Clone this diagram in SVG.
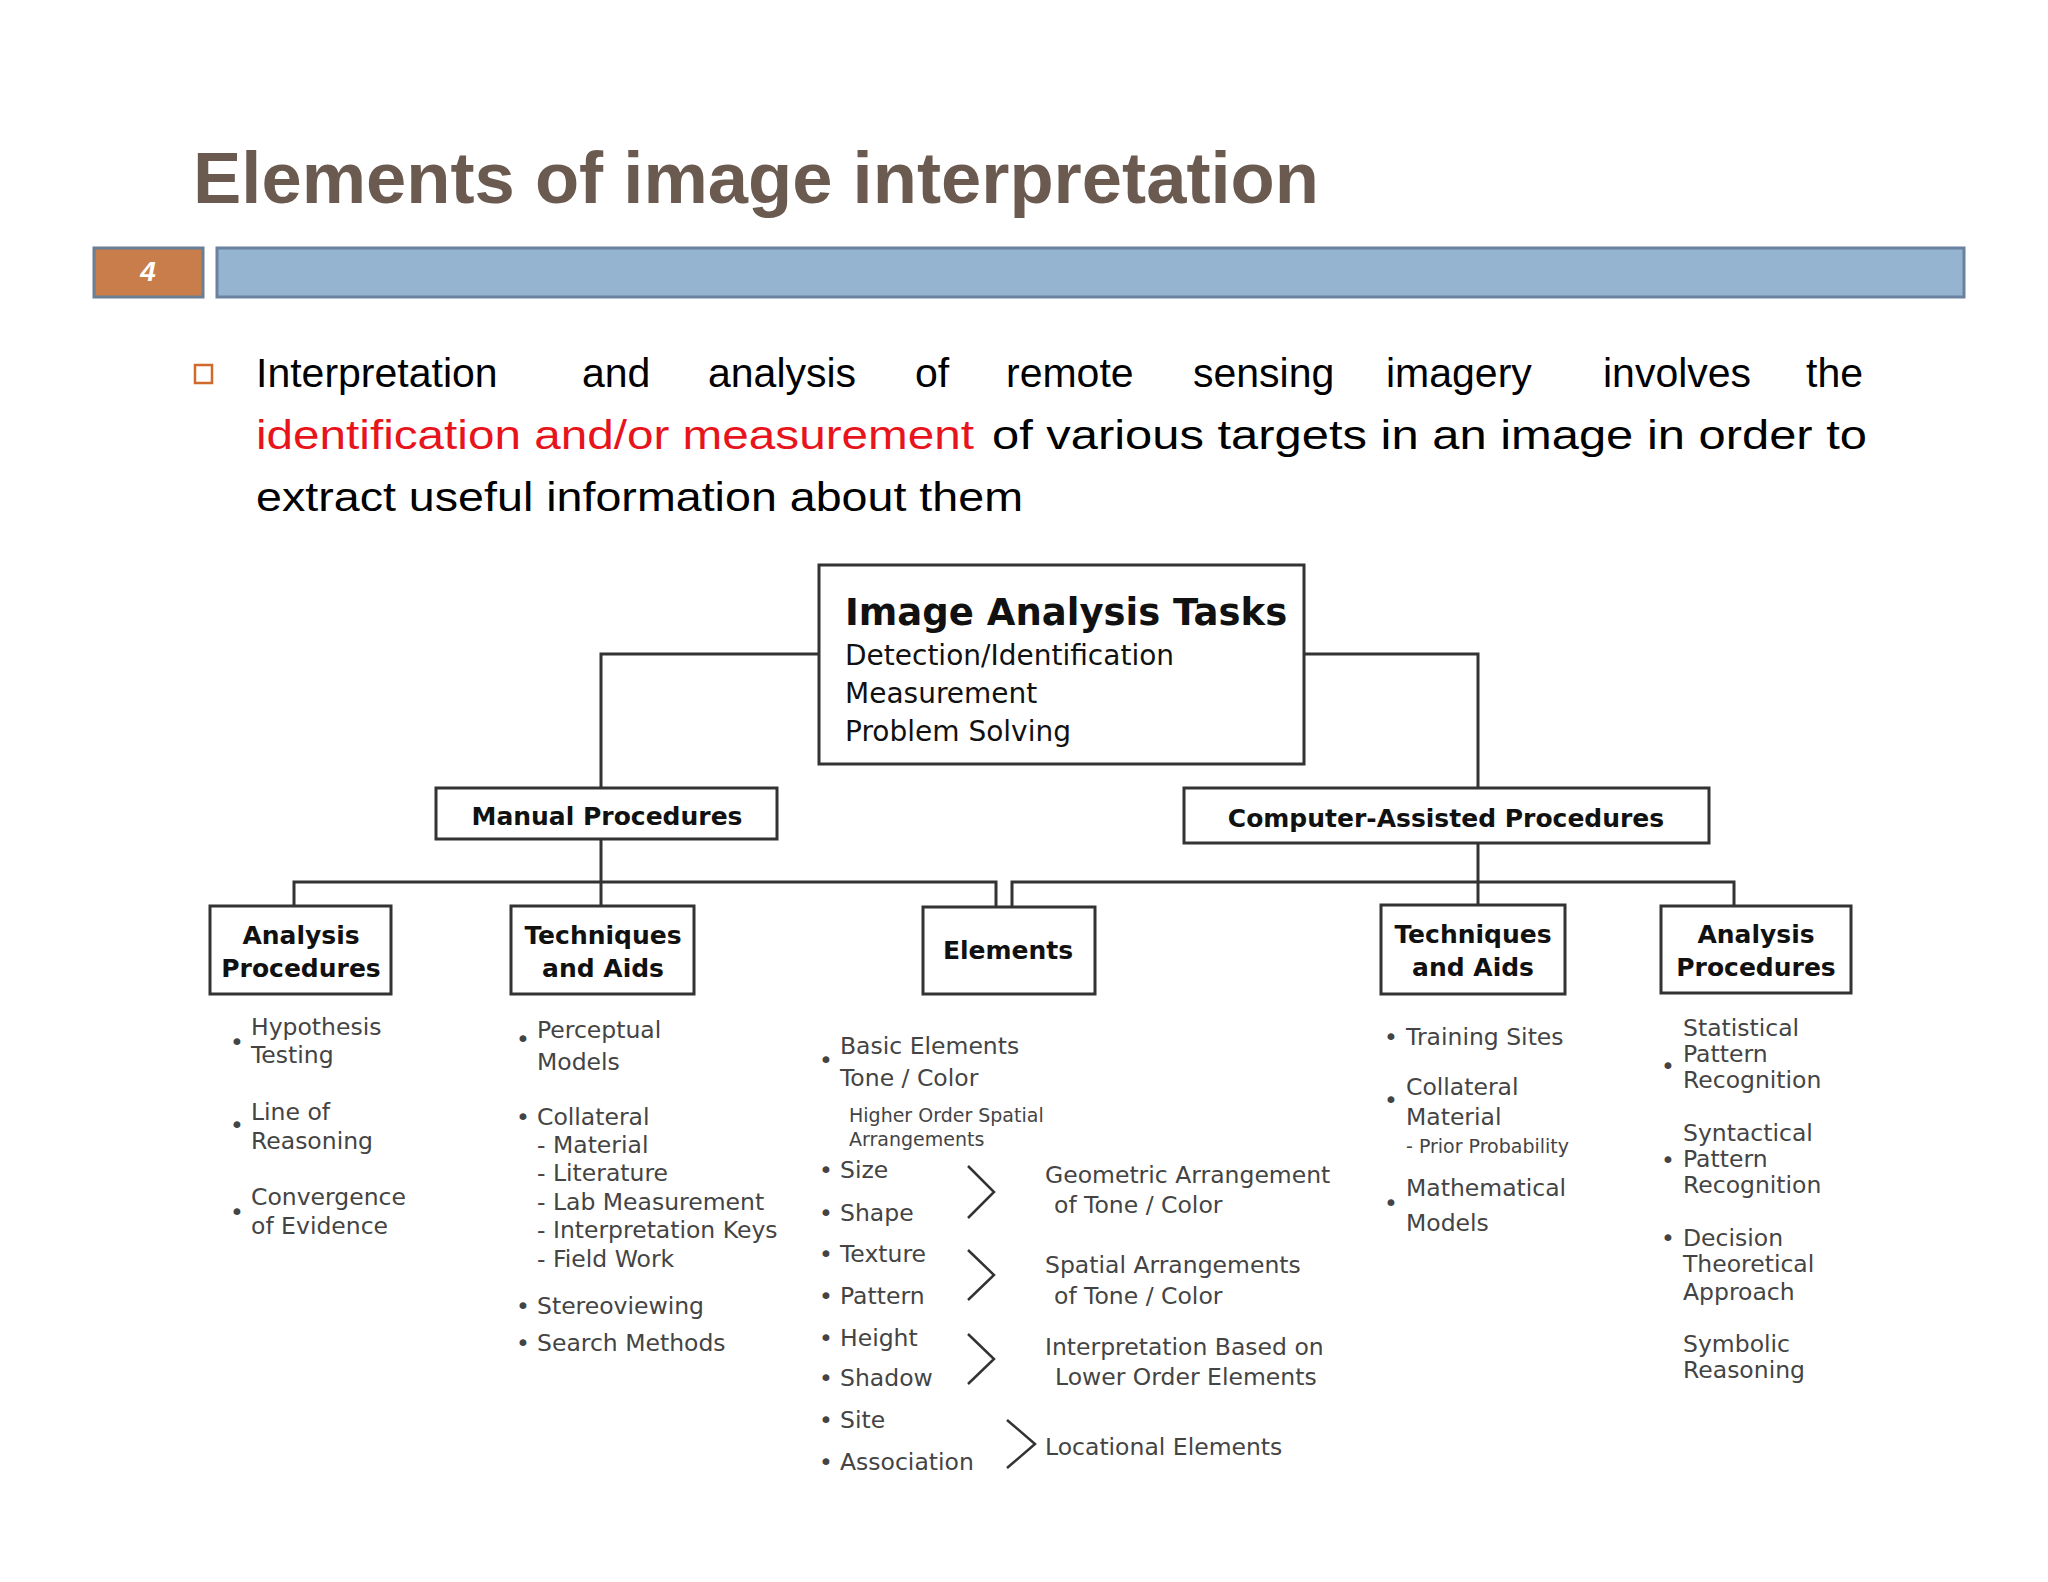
<svg xmlns="http://www.w3.org/2000/svg" width="2048" height="1582" viewBox="0 0 2048 1582">
<style>
.t{font-family:"DejaVu Sans",Verdana,sans-serif;fill:#111}
.b{font-weight:bold;font-size:25px;text-anchor:middle}
.l{font-size:23.5px;fill:#444}
.s{font-size:19px;fill:#444}
.box{fill:#fff;stroke:#333;stroke-width:3}
.c{fill:none;stroke:#333;stroke-width:3}
.body{font-family:"Liberation Sans",Arial,sans-serif;font-size:41px;fill:#000}
</style>
<rect width="2048" height="1582" fill="#fff"/>
<text x="193" y="203" font-family="Liberation Sans,Arial,sans-serif" font-weight="bold" font-size="72" fill="#6b5a50" textLength="1126" lengthAdjust="spacingAndGlyphs">Elements of image interpretation</text>
<rect x="94" y="248" width="109" height="49" fill="#c87d4a" stroke="#6a7f95" stroke-width="3"/>
<text x="148" y="281" font-family="Liberation Sans,Arial,sans-serif" font-style="italic" font-weight="bold" font-size="28" fill="#fff" text-anchor="middle">4</text>
<rect x="217" y="248" width="1747" height="49" fill="#94b4d0" stroke="#6a82a0" stroke-width="3"/>
<rect x="195" y="365" width="17" height="18" fill="none" stroke="#d06a2a" stroke-width="2.5"/>
<g class="body">
<text x="256" y="387">Interpretation</text><text x="582" y="387">and</text><text x="708" y="387">analysis</text><text x="915" y="387">of</text><text x="1006" y="387">remote</text><text x="1193" y="387">sensing</text><text x="1386" y="387">imagery</text><text x="1603" y="387">involves</text><text x="1806" y="387">the</text>
<text x="256" y="449" fill="#e8141c" textLength="718" lengthAdjust="spacingAndGlyphs">identification and/or measurement</text>
<text x="992" y="449" textLength="875" lengthAdjust="spacingAndGlyphs">of various targets in an image in order to</text>
<text x="256" y="511" textLength="767" lengthAdjust="spacingAndGlyphs">extract useful information about them</text>
</g>
<g id="connectors" class="c">
<polyline points="819,654 601,654 601,788"/>
<polyline points="1304,654 1478,654 1478,788"/>
<line x1="601" y1="839" x2="601" y2="906"/>
<polyline points="294,906 294,882 996,882 996,906"/>
<line x1="1478" y1="843" x2="1478" y2="906"/>
<polyline points="1012,906 1012,882 1734,882 1734,906"/>
</g>
<g id="tasks"><rect class="box" x="819" y="565" width="485" height="199"/>
<text class="t" x="845" y="625" font-weight="bold" font-size="37">Image Analysis Tasks</text>
<text class="t" x="845" y="665" font-size="28" fill="#333">Detection/Identification</text>
<text class="t" x="845" y="703" font-size="28" fill="#333">Measurement</text>
<text class="t" x="845" y="741" font-size="28" fill="#333">Problem Solving</text></g>
<g id="manual"><rect class="box" x="436" y="788" width="341" height="51"/><text class="t b" x="607" y="825" font-size="28">Manual Procedures</text></g>
<g id="computer"><rect class="box" x="1184" y="788" width="525" height="55"/><text class="t b" x="1446" y="827" font-size="28">Computer-Assisted Procedures</text></g>
<g id="analysisL"><rect class="box" x="210" y="906" width="181" height="88"/><text class="t b" x="301" y="944">Analysis</text><text class="t b" x="301" y="977">Procedures</text></g>
<g id="techL"><rect class="box" x="511" y="906" width="183" height="88"/><text class="t b" x="603" y="944">Techniques</text><text class="t b" x="603" y="977">and Aids</text></g>
<g id="elements"><rect class="box" x="923" y="907" width="172" height="87"/><text class="t b" x="1008" y="959">Elements</text></g>
<g id="techR"><rect class="box" x="1381" y="905" width="184" height="89"/><text class="t b" x="1473" y="943">Techniques</text><text class="t b" x="1473" y="976">and Aids</text></g>
<g id="analysisR"><rect class="box" x="1661" y="906" width="190" height="87"/><text class="t b" x="1756" y="943">Analysis</text><text class="t b" x="1756" y="976">Procedures</text></g>
<g id="listAL" class="t l">
<text x="251" y="1035">Hypothesis</text><text x="251" y="1063">Testing</text>
<text x="251" y="1120">Line of</text><text x="251" y="1149">Reasoning</text>
<text x="251" y="1205">Convergence</text><text x="251" y="1234">of Evidence</text>
<text x="230" y="1050">•</text><text x="230" y="1133">•</text><text x="230" y="1220">•</text>
</g>
<g id="listTL" class="t l">
<text x="516" y="1047">•</text><text x="537" y="1038">Perceptual</text><text x="537" y="1070">Models</text>
<text x="516" y="1125">•</text><text x="537" y="1125">Collateral</text>
<text x="537" y="1153">- Material</text><text x="537" y="1181">- Literature</text><text x="537" y="1210">- Lab Measurement</text><text x="537" y="1238">- Interpretation Keys</text><text x="537" y="1267">- Field Work</text>
<text x="516" y="1314">•</text><text x="537" y="1314">Stereoviewing</text>
<text x="516" y="1351">•</text><text x="537" y="1351">Search Methods</text>
</g>
<g id="listE" class="t l">
<text x="819" y="1068">•</text><text x="840" y="1054">Basic Elements</text><text x="840" y="1086">Tone / Color</text>
<text class="t s" x="849" y="1122">Higher Order Spatial</text><text class="t s" x="849" y="1146">Arrangements</text>
<text x="819" y="1178">•</text><text x="840" y="1178">Size</text>
<text x="819" y="1221">•</text><text x="840" y="1221">Shape</text>
<text x="819" y="1262">•</text><text x="840" y="1262">Texture</text>
<text x="819" y="1304">•</text><text x="840" y="1304">Pattern</text>
<text x="819" y="1346">•</text><text x="840" y="1346">Height</text>
<text x="819" y="1386">•</text><text x="840" y="1386">Shadow</text>
<text x="819" y="1428">•</text><text x="840" y="1428">Site</text>
<text x="819" y="1470">•</text><text x="840" y="1470">Association</text>
<text x="1045" y="1183">Geometric Arrangement</text><text x="1054" y="1213">of Tone / Color</text>
<text x="1045" y="1273">Spatial Arrangements</text><text x="1054" y="1304">of Tone / Color</text>
<text x="1045" y="1355">Interpretation Based on</text><text x="1055" y="1385">Lower Order Elements</text>
<text x="1045" y="1455">Locational Elements</text>
</g>
<g id="chevrons" fill="none" stroke="#333" stroke-width="2.5">
<polyline points="968,1166 994,1192 968,1218"/>
<polyline points="968,1250 994,1275 968,1300"/>
<polyline points="968,1334 994,1359 968,1384"/>
<polyline points="1007,1420 1035,1444 1007,1468"/>
</g>
<g id="listTR" class="t l">
<text x="1384" y="1045">•</text><text x="1406" y="1045">Training Sites</text>
<text x="1384" y="1108">•</text><text x="1406" y="1095">Collateral</text><text x="1406" y="1125">Material</text>
<text class="t s" x="1406" y="1153">- Prior Probability</text>
<text x="1384" y="1211">•</text><text x="1406" y="1196">Mathematical</text><text x="1406" y="1231">Models</text>
</g>
<g id="listAR" class="t l">
<text x="1661" y="1074">•</text><text x="1683" y="1036">Statistical</text><text x="1683" y="1062">Pattern</text><text x="1683" y="1088">Recognition</text>
<text x="1661" y="1168">•</text><text x="1683" y="1141">Syntactical</text><text x="1683" y="1167">Pattern</text><text x="1683" y="1193">Recognition</text>
<text x="1661" y="1246">•</text><text x="1683" y="1246">Decision</text><text x="1683" y="1272">Theoretical</text><text x="1683" y="1300">Approach</text>
<text x="1683" y="1352">Symbolic</text><text x="1683" y="1378">Reasoning</text>
</g>
</svg>
